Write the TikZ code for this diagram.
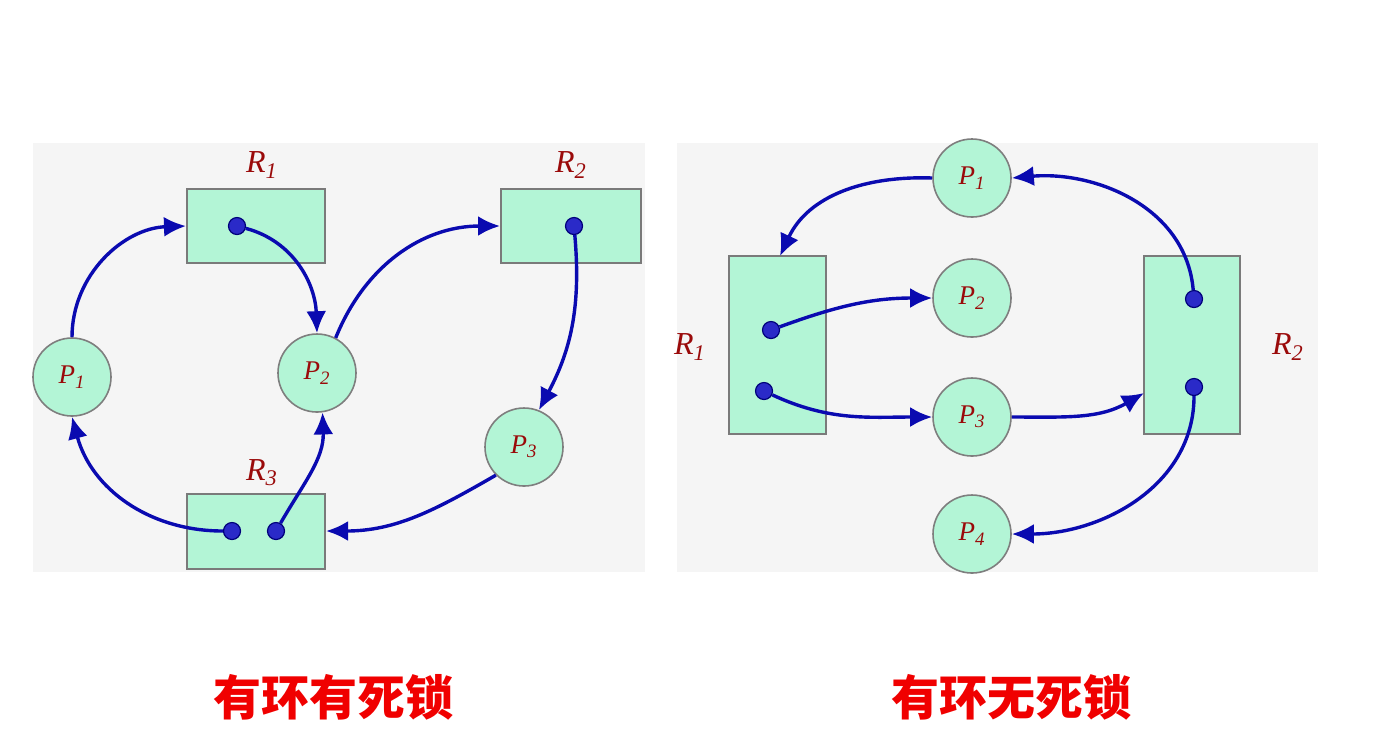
\documentclass[tikz,border=0pt]{standalone}
\usepackage{fontspec}
\setmainfont{Liberation Serif}
\newfontfamily\cjk{Noto Sans CJK SC}
\usetikzlibrary{arrows.meta}
\definecolor{panelbg}{HTML}{F5F5F5}
\definecolor{rgreen}{HTML}{B3F5D6}
\definecolor{rgray}{HTML}{7A7A7A}
\definecolor{cgray}{HTML}{7E7E7E}
\definecolor{ablue}{HTML}{0A0AB0}
\definecolor{dotblue}{HTML}{2A2AC8}
\definecolor{dotdark}{HTML}{00007A}
\definecolor{lred}{HTML}{9A0A0A}
\definecolor{capred}{HTML}{F00000}
\tikzset{
  panel/.style={fill=panelbg, draw=none},
  resbox/.style={draw=rgray, fill=rgreen, line width=1pt, inner sep=0pt},
  proc/.style={circle, draw=cgray, fill=rgreen, line width=0.8pt, minimum size=39pt, inner sep=0pt,
    text=lred, font=\fontsize{13.5}{13.5}\selectfont\itshape},
  rdot/.style={circle, fill=dotblue, draw=dotdark, line width=0.6pt, minimum size=8.5pt, inner sep=0pt},
  arr/.style={draw=ablue, line width=1.7pt, -{Latex[length=11pt,width=10pt]}},
  lab/.style={text=lred, font=\fontsize{16}{16}\selectfont\itshape},
  captext/.style={text=capred, font=\cjk\bfseries\fontsize{24}{24}\selectfont}
}
\begin{document}
\begin{tikzpicture}[x=0.5pt,y=-0.5pt]
\useasboundingbox (0,0) rectangle (1400,730);
% panels
\fill[panel] (33,143) rectangle (645,572);
\fill[panel] (677,143) rectangle (1318,572);

% ---------- left diagram ----------
\node[resbox, minimum width=69pt, minimum height=37pt] (LR1) at (256,226) {};
\node[resbox, minimum width=70pt, minimum height=37pt] (LR2) at (571,226) {};
\node[resbox, minimum width=69pt, minimum height=37.5pt] (LR3) at (256,531) {};
\node[lab] (LR1l) at (262,165) {R\textsubscript{1}};
\node[lab] (LR2l) at (571,165) {R\textsubscript{2}};
\node[lab] (LR3l) at (262,473) {R\textsubscript{3}};
\node[proc] (LP1) at (72,377) {P\textsubscript{1}};
\node[proc] (LP2) at (317,373) {P\textsubscript{2}};
\node[proc] (LP3) at (524,447) {P\textsubscript{3}};
\node[rdot] (LD1) at (237,226) {};
\node[rdot] (LD2) at (574,226) {};
\node[rdot] (LD3a) at (232,531) {};
\node[rdot] (LD3b) at (276,531) {};

\draw[arr] (LP1.north) to[out=90,in=182] (LR1.west);
\draw[arr] (LD1) to[out=-15,in=92] (LP2.north);
\draw[arr] (LP2.62) to[out=68,in=180] (LR2.west);
\draw[arr] (LD2) to[out=-85,in=62] (LP3.68);
\draw[arr] (LP3.225) to[out=210,in=0] (LR3.east);
\draw[arr] (LD3a) to[out=180,in=-75] (LP1.south);
\draw[arr] (LD3b) to[out=60,in=-88] (LP2.-82);

% ---------- right diagram ----------
\node[resbox, minimum width=48.5pt, minimum height=89pt] (RR1) at (777.5,345) {};
\node[resbox, minimum width=48pt, minimum height=89pt] (RR2) at (1192,345) {};
\node[lab] (RR1l) at (690,347) {R\textsubscript{1}};
\node[lab] (RR2l) at (1288,347) {R\textsubscript{2}};
\node[proc] (RP1) at (972,178) {P\textsubscript{1}};
\node[proc] (RP2) at (972,298) {P\textsubscript{2}};
\node[proc] (RP3) at (972,417) {P\textsubscript{3}};
\node[proc] (RP4) at (972,534) {P\textsubscript{4}};
\node[rdot] (RD1) at (771,330) {};
\node[rdot] (RD2) at (764,391) {};
\node[rdot] (RD3) at (1194,299) {};
\node[rdot] (RD4) at (1194,387) {};
\coordinate (RR1t) at (780,256);
\coordinate (RR2w) at (1144,393);

\draw[arr] (RP1.west) to[out=178,in=65] (RR1t);
\draw[arr] (RD3) to[out=95,in=5] (RP1.east);
\draw[arr] (RD1) to[out=20,in=180] (RP2.west);
\draw[arr] (RD2) to[out=-25,in=180] (RP3.west);
\draw[arr] (RP3.east) to[out=0,in=210] (RR2w);
\draw[arr] (RD4) to[out=-90,in=0] (RP4.east);

% captions
\node[captext] (C1) at (333,697) {有环有死锁};
\node[captext] (C2) at (1011,697) {有环无死锁};
\end{tikzpicture}
\end{document}
